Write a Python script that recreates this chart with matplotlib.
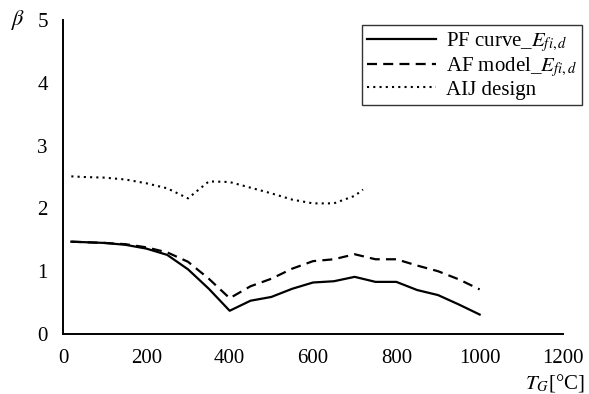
import matplotlib
matplotlib.use("Agg")
import matplotlib.pyplot as plt

plt.rcParams['font.family'] = ['Liberation Serif', 'DejaVu Serif']
plt.rcParams['mathtext.fontset'] = 'stix'

# Data
pf_T = [20, 100, 150, 200, 250, 300, 350, 400, 450, 500, 550, 600, 650, 700, 750, 800, 850, 900, 950, 1000]
pf_beta = [1.47, 1.45, 1.42, 1.36, 1.26, 1.03, 0.72, 0.37, 0.53, 0.59, 0.72, 0.82, 0.84, 0.91, 0.83, 0.83, 0.70, 0.62, 0.47, 0.31]

af_T = [20, 100, 150, 200, 250, 300, 350, 400, 450, 500, 550, 600, 650, 700, 750, 800, 850, 900, 950, 1000]
af_beta = [1.47, 1.45, 1.43, 1.38, 1.30, 1.15, 0.88, 0.57, 0.76, 0.88, 1.04, 1.16, 1.19, 1.27, 1.19, 1.19, 1.09, 1.00, 0.87, 0.71]

aij_T = [20, 50, 100, 150, 200, 250, 300, 350, 400, 450, 500, 550, 600, 650, 700, 720]
aij_beta = [2.51, 2.50, 2.49, 2.46, 2.40, 2.32, 2.16, 2.43, 2.42, 2.33, 2.24, 2.14, 2.08, 2.08, 2.20, 2.30]

labels = ["PF curve_$E_{fi,d}$", "AF model_$E_{fi,d}$", "AIJ design"]
x_ticks = [0, 200, 400, 600, 800, 1000, 1200]
y_ticks = [0, 1, 2, 3, 4, 5]

fig = plt.figure(figsize=(5.89, 3.94), dpi=100)
ax = fig.add_axes([63/589, 1-334/394, 500/589, 314/394])

ax.plot(pf_T, pf_beta, color='black', lw=1.6, linestyle='-', label=labels[0])
ax.plot(af_T, af_beta, color='black', lw=1.6, linestyle=(0, (4.5, 2.8)), label=labels[1])
ax.plot(aij_T, aij_beta, color='black', lw=1.5, linestyle=(0, (1, 2)), label=labels[2])

ax.set_xlim(0, 1200)
ax.set_ylim(0, 5)
ax.set_xticks(x_ticks)
ax.set_yticks(y_ticks)
ax.tick_params(length=0, labelsize=15, pad=11)
for s in ['top', 'right']:
    ax.spines[s].set_visible(False)
for s in ['left', 'bottom']:
    ax.spines[s].set_linewidth(1.4)
    ax.spines[s].set_color('black')

fig.text(18/589, 1-20/394, r"$\beta$", fontsize=16, ha='center', va='center')
fig.text(585/589, 1-383/394, r"$T_G$[°C]", fontsize=15, ha='right', va='center')

leg = ax.legend(loc='upper right', bbox_to_anchor=(582/589, 1-25/394), bbox_transform=fig.transFigure,
                borderaxespad=0, fontsize=15, frameon=True, fancybox=False, handlelength=3.3,
                labelspacing=0.05, borderpad=0.25, handletextpad=0.5)
leg.get_frame().set_edgecolor('black')
leg.get_frame().set_linewidth(1.0)

fig.savefig("out.png", dpi=100)
